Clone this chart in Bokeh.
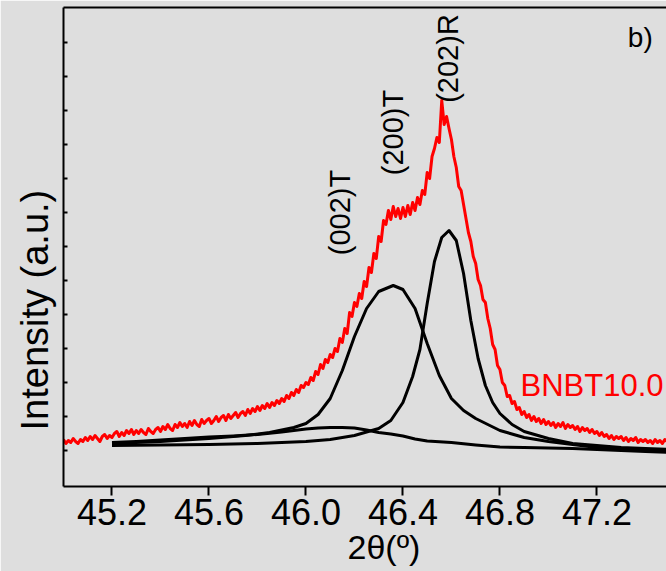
import math
from bokeh.plotting import figure
from bokeh.models import Range1d, FixedTicker, LinearAxis, Label, Title, PrintfTickFormatter, ColumnDataSource
from bokeh.core.properties import value
from bokeh.embed import file_html
from bokeh.resources import INLINE

FONT = "Liberation Sans"

# ---------------- data (2theta in degrees, intensity in a.u.) ----------------
# measured pattern, 0.01 deg step starting at 45.00
meas_start = 45.00
meas_step = 0.01
meas_intensity = [
    47, 43, 46, 44, 48, 45, 43, 47, 45, 49,
    46, 50, 47, 51, 48, 45, 50, 52, 48, 51,
    49, 53, 55, 50, 54, 51, 56, 53, 57, 52,
    56, 53, 57, 54, 52, 58, 55, 53, 57, 59,
    55, 60, 57, 62, 58, 56, 62, 59, 64, 60,
    63, 59, 65, 61, 66, 62, 60, 67, 63, 66,
    68, 63, 66, 70, 65, 69, 71, 66, 72, 68,
    71, 74, 69, 73, 75, 71, 77, 73, 78, 75,
    80, 76, 81, 78, 83, 79, 84, 81, 86, 83,
    88, 85, 91, 88, 94, 91, 97, 94, 101, 99,
    104, 102, 109, 106, 115, 112, 122, 118, 127, 124,
    132, 129, 138, 135, 148, 144, 158, 153, 174, 170,
    184, 180, 193, 188, 205, 200, 219, 214, 233, 228,
    250, 245, 266, 262, 276, 267, 280, 270, 278, 268,
    279, 270, 281, 272, 284, 276, 289, 282, 296, 292,
    314, 308, 330, 338, 349, 344, 386, 362, 370, 358,
    347, 330, 319, 300, 296, 282, 268, 254, 245, 230,
    223, 207, 201, 187, 184, 168, 158, 142, 137, 121,
    117, 104, 101, 90, 91, 83, 85, 77, 79, 72,
    75, 69, 72, 66, 70, 65, 68, 63, 67, 62,
    65, 61, 64, 59, 63, 60, 64, 58, 62, 59,
    61, 57, 60, 55, 59, 56, 58, 54, 57, 53,
    55, 51, 54, 50, 52, 48, 51, 47, 50, 48,
    50, 46, 49, 45, 48, 46, 49, 44, 47, 45,
    47, 44, 46, 43, 47, 44, 46, 43, 47, 45,
]
meas_theta = [round(meas_start + meas_step * i, 2) for i in range(len(meas_intensity))]

# fitted component (002)T
fit002_theta = [45.20, 45.30, 45.40, 45.50, 45.60, 45.70, 45.80, 45.90, 46.00, 46.05,
                46.10, 46.15, 46.20, 46.25, 46.30, 46.35, 46.40, 46.45, 46.50, 46.60,
                46.70, 46.80, 46.90, 47.00, 47.10, 47.20, 47.30, 47.40, 47.50]
fit002_int = [44, 45, 46.5, 48, 49.5, 50.5, 52, 54.5, 57.5, 58.5,
              59, 59, 58.5, 56.5, 54, 52.5, 50.5, 47.5, 45.5, 44,
              41.5, 39.5, 39, 38.5, 38, 37, 36, 35, 34]

# fitted component (200)T
fit200_theta = [45.20, 45.40, 45.60, 45.75, 45.85, 45.95, 46.00, 46.05, 46.10, 46.15,
                46.20, 46.25, 46.30, 46.36, 46.40, 46.45, 46.50, 46.55, 46.60, 46.65,
                46.70, 46.80, 46.90, 47.00, 47.10, 47.20, 47.30, 47.40, 47.50]
fit200_int = [43, 45, 48, 51, 54, 59, 63, 72, 88, 116,
              150, 178, 195, 201, 197, 178, 143, 111, 88, 76,
              68, 56, 49, 45, 42, 39, 38, 37, 35]

# fitted component (202)R
fit202_theta = [45.20, 45.40, 45.60, 45.80, 46.00, 46.10, 46.20, 46.30, 46.35, 46.40,
                46.44, 46.47, 46.50, 46.53, 46.56, 46.59, 46.62, 46.65, 46.68, 46.71,
                46.74, 46.77, 46.80, 46.85, 46.90, 47.00, 47.10, 47.20, 47.30, 47.40, 47.50]
fit202_int = [41, 41.5, 42, 43, 45, 47, 51, 58, 66, 84,
              110, 137, 183, 225, 249, 256, 246, 213, 166, 128,
              101, 84, 73, 62, 55, 48, 43, 41, 39, 38, 37]

x_ticks = [45.2, 45.6, 46.0, 46.4, 46.8, 47.2]
y_ticks = [36, 70, 104, 138, 172, 206, 240, 274, 308, 342, 376, 410, 444]

peak_labels = ["(002)T", "(200)T", "(202)R"]
peak_label_theta = [46.142, 46.357, 46.584]
peak_label_int = [274, 354, 428]

sample_name = "BNBT10.0"
panel_tag = "b)"
x_title = "2θ(º)"
y_title = "Intensity (a.u.)"

# ---------------- figure ----------------
BG = "#dedede"
p = figure(width=666, height=571, output_backend="svg", toolbar_location=None,
           x_range=Range1d(45.0, 47.487), y_range=Range1d(0, 479),
           min_border_left=63, min_border_right=0, min_border_top=7, min_border_bottom=85,
           background_fill_color=BG, border_fill_color=BG)
p.outline_line_color = None
p.grid.visible = False

# fitted components
for th, it in [(fit002_theta, fit002_int), (fit200_theta, fit200_int), (fit202_theta, fit202_int)]:
    p.line(th, it, line_color="black", line_width=3, line_join="round")

# measured
p.line(meas_theta, meas_intensity, line_color="#ff0000", line_width=3, line_join="round")

# x axis
xa = p.xaxis[0]
xa.ticker = FixedTicker(ticks=x_ticks)
xa.formatter = PrintfTickFormatter(format="%.1f")
xa.axis_line_width = 2
xa.axis_line_color = "black"
xa.major_tick_line_width = 2
xa.major_tick_out = 9
xa.major_tick_in = 0
xa.minor_tick_line_color = None
xa.major_label_text_font = FONT
xa.major_label_text_font_size = "36px"
xa.major_label_text_color = "black"
xa.major_label_standoff = 3

# y axis (ticks only, no labels)
ya = p.yaxis[0]
ya.ticker = FixedTicker(ticks=y_ticks)
ya.major_label_overrides = {t: "" for t in y_ticks}
ya.axis_line_width = 2
ya.axis_line_color = "black"
ya.major_tick_line_width = 2
ya.major_tick_in = 4
ya.major_tick_out = 0
ya.minor_tick_line_color = None
ya.major_label_text_font_size = "10px"
ya.major_label_standoff = 0

# top frame line
top = LinearAxis(ticker=FixedTicker(ticks=[]), axis_line_width=2, axis_line_color="black",
                 major_tick_out=0, major_tick_in=0, minor_tick_line_color=None,
                 major_label_standoff=0)
p.add_layout(top, "above")

# axis titles (as side-panel titles so they can be placed freely)
p.add_layout(Title(text=y_title, align="left", offset=56, standoff=16, vertical_align="bottom",
                   text_font=FONT, text_font_size="38px", text_font_style="normal",
                   text_color="black"), "left")
p.add_layout(Title(text=x_title, align="left", offset=284, standoff=-4, vertical_align="bottom",
                   text_font=FONT, text_font_size="34px", text_font_style="normal",
                   text_color="black"), "below")

# peak labels
src = ColumnDataSource(dict(x=peak_label_theta, y=peak_label_int, t=peak_labels))
p.text(x="x", y="y", text="t", source=src, angle=math.pi / 2,
       text_align="center", text_baseline="middle",
       text_font=value(FONT), text_font_size="29px", text_color="black")

p.add_layout(Label(x=46.885, y=101, text=sample_name, text_align="left", text_baseline="middle",
                   text_font=FONT, text_font_size="31px", text_color="#ff0000"))
p.add_layout(Label(x=47.379, y=449, text=panel_tag, text_align="center", text_baseline="middle",
                   text_font=FONT, text_font_size="28px", text_color="black"))

open("out.html", "w").write(file_html(p, INLINE))
